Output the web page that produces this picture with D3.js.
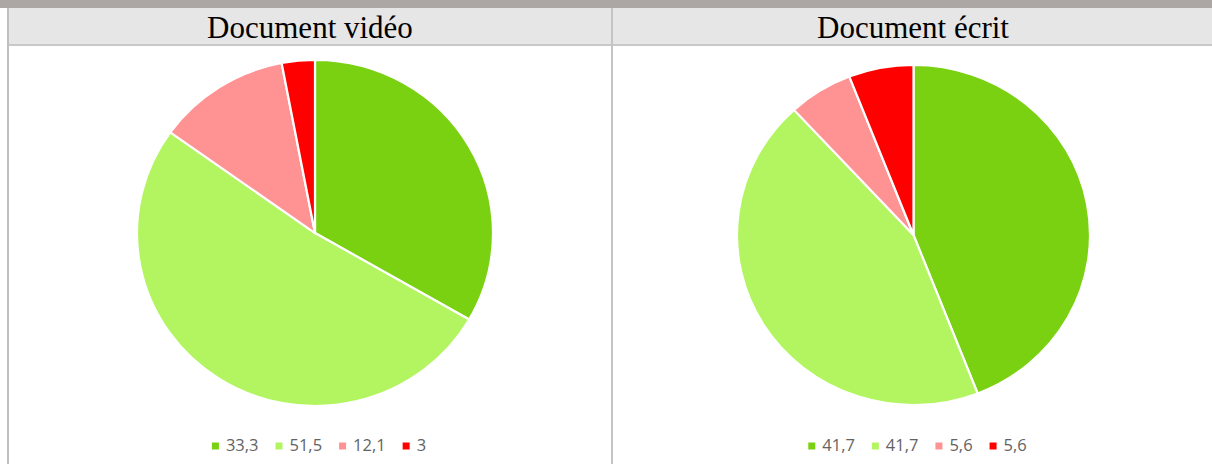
<!DOCTYPE html>
<html>
<head>
<meta charset="utf-8">
<script src="https://cdn.jsdelivr.net/npm/d3@7"></script>
<style>
  body { margin: 0; background: #fff; }
  svg { display: block; }
</style>
</head>
<body>
<div class="chart"></div>
<script>
// titles of the two pies
var titles = ['Document vidéo', 'Document écrit'];
// slice values (percent), same order as the legend
var videoValues = [33.3, 51.5, 12.1, 3];
var ecritValues = [41.7, 41.7, 5.6, 5.6];
// legend labels as printed in the picture
var videoLabels = ['33,3', '51,5', '12,1', '3'];
var ecritLabels = ['41,7', '41,7', '5,6', '5,6'];
var sliceColors = ['#7ad111', '#b3f561', '#ff9393', '#ff0000'];

var width = 1212, height = 464;

var svg = d3.select('.chart')
  .append('svg')
    .attr('width', width)
    .attr('height', height);

// top grey band and table frame
svg.append('rect')
  .attr('x', 0).attr('y', 0)
  .attr('width', width).attr('height', 8)
  .attr('fill', '#aca7a5');

svg.append('rect')
  .attr('x', 8).attr('y', 8)
  .attr('width', width - 8).attr('height', 37)
  .attr('fill', '#e6e6e6');

svg.append('rect')
  .attr('x', 8).attr('y', 44)
  .attr('width', width - 8).attr('height', 2)
  .attr('fill', '#c8c8c8');

svg.append('rect')
  .attr('x', 7).attr('y', 8)
  .attr('width', 2).attr('height', height - 8)
  .attr('fill', '#c0c0c0');

svg.append('rect')
  .attr('x', 611).attr('y', 8)
  .attr('width', 2).attr('height', height - 8)
  .attr('fill', '#c4c4c4');

var panels = [
  { title: titles[0], values: videoValues, labels: videoLabels, cx: 315, cy: 233, rx: 178, ry: 173, tx: 310 },
  { title: titles[1], values: ecritValues, labels: ecritLabels, cx: 913.5, cy: 235, rx: 176.5, ry: 170, tx: 913 }
];

var pie = d3.pie().sort(null).value(d => d);
var color = d3.scaleOrdinal().domain(d3.range(4)).range(sliceColors);

panels.forEach(function (p) {
  svg.append('text')
    .attr('x', p.tx)
    .attr('y', 38)
    .attr('text-anchor', 'middle')
    .style('font-family', '"Liberation Serif", "Times New Roman", serif')
    .style('font-size', '31px')
    .attr('fill', '#000')
    .text(p.title);

  var arc = d3.arc().innerRadius(0).outerRadius(p.rx);

  var g = svg.append('g')
    .attr('transform', 'translate(' + p.cx + ',' + p.cy + ') scale(1,' + (p.ry / p.rx) + ')');

  g.selectAll('path')
    .data(pie(p.values))
    .enter()
    .append('path')
      .attr('d', arc)
      .attr('fill', (d, i) => color(i))
      .attr('stroke', '#fff')
      .attr('stroke-width', 2.2);

  // legend, centred under the pie
  var leg = svg.append('g');
  var x = 0;
  p.labels.forEach(function (lab, i) {
    leg.append('rect')
      .attr('x', x).attr('y', -8.5)
      .attr('width', 7).attr('height', 7)
      .attr('fill', color(i));
    var t = leg.append('text')
      .attr('x', x + 14)
      .attr('y', 0)
      .style('font-family', '"Open Sans", sans-serif')
      .style('font-size', '16.5px')
      .attr('fill', '#636363')
      .text(lab);
    x += 14 + t.node().getComputedTextLength() + 17;
  });
  var legW = x - 17;
  leg.attr('transform', 'translate(' + (p.cx + 4 - legW / 2) + ',451)');
});
</script>
</body>
</html>
